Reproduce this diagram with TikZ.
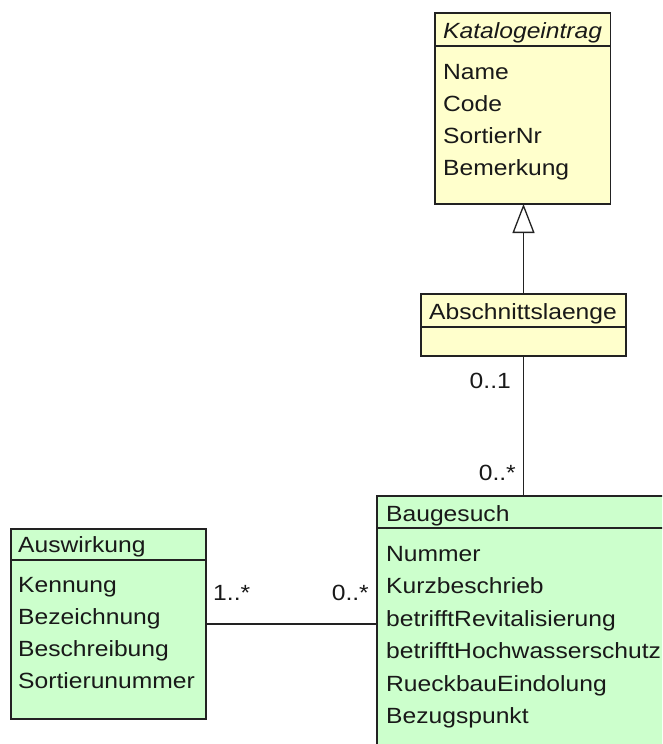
\documentclass[tikz,border=0pt]{standalone}
\usepackage{fontspec}
\newfontfamily\umlfont{Liberation Sans}[FakeStretch=1.12]
\usetikzlibrary{arrows.meta}
\definecolor{yfill}{HTML}{FFFFCC}
\definecolor{gfill}{HTML}{CCFFCC}
\definecolor{edge}{HTML}{222222}
\begin{document}
\begin{tikzpicture}[x=1pt,y=-1pt,
  classbox/.style={draw=edge, line width=1.3pt, anchor=north west, inner sep=0pt, outer sep=0pt},
  txt/.style={anchor=base west, inner sep=0pt, font=\umlfont\fontsize{22}{26}\selectfont, text=black!90},
  mult/.style={inner sep=0pt, font=\umlfont\fontsize{22}{26}\selectfont, text=black!90},
  conn/.style={draw=edge, line width=1.3pt},
  sepline/.style={draw=edge, line width=1.3pt}]
\useasboundingbox (0,0) rectangle (662,744);
\clip (0,0) rectangle (662,744);
% Katalogeintrag
\node[classbox, fill=yfill, minimum width=175.5pt, minimum height=191pt] (kat) at (435,13) {};
\draw[sepline] (435,46) -- (610.5,46);
\node[txt, font=\umlfont\fontsize{22}{26}\selectfont\itshape] (katT) at (443,38) {Katalogeintrag};
\node[txt] (kat1) at (443,79) {Name};
\node[txt] (kat2) at (443,111) {Code};
\node[txt] (kat3) at (443,143) {SortierNr};
\node[txt] (kat4) at (443,175) {Bemerkung};
% Abschnittslaenge
\node[classbox, fill=yfill, minimum width=205pt, minimum height=62pt] (abs) at (421,294) {};
\draw[sepline] (421,327) -- (626,327);
\node[txt] (absT) at (429,319) {Abschnittslaenge};
% Baugesuch
\node[classbox, fill=gfill, minimum width=294pt, minimum height=262pt] (baug) at (377,496) {};
\draw[sepline] (377,528) -- (671,528);
\node[txt] (baugT) at (386,521) {Baugesuch};
\node[txt] (b1) at (386,561) {Nummer};
\node[txt] (b2) at (386,593.5) {Kurzbeschrieb};
\node[txt] (b3) at (386,626) {betrifftRevitalisierung};
\node[txt] (b4) at (386,658.5) {betrifftHochwasserschutz};
\node[txt] (b5) at (386,691) {RueckbauEindolung};
\node[txt] (b6) at (386,723.5) {Bezugspunkt};
% Auswirkung
\node[classbox, fill=gfill, minimum width=195pt, minimum height=190pt] (aus) at (11,529) {};
\draw[sepline] (11,560) -- (206,560);
\node[txt] (ausT) at (18,552) {Auswirkung};
\node[txt] (a1) at (18,592) {Kennung};
\node[txt] (a2) at (18,624) {Bezeichnung};
\node[txt] (a3) at (18,656) {Beschreibung};
\node[txt] (a4) at (18,688) {Sortierunummer};
% connectors
\draw[conn, -{Triangle[open, length=29pt, width=22pt, line width=1.3pt]}] (abs.north) -- (abs.north |- kat.south);
\draw[conn] (abs.south) -- (abs.south |- baug.north);
\coordinate (assocy) at (0,624);
\draw[conn] (aus.east |- assocy) -- (baug.west |- assocy);
% multiplicities
\node[mult, anchor=base east] (m1) at (511,388) {0..1};
\node[mult, anchor=base east] (m2) at (516,480) {0..*};
\node[mult, anchor=base west] (m3) at (213,600) {1..*};
\node[mult, anchor=base east] (m4) at (369,600) {0..*};
\end{tikzpicture}
\end{document}
